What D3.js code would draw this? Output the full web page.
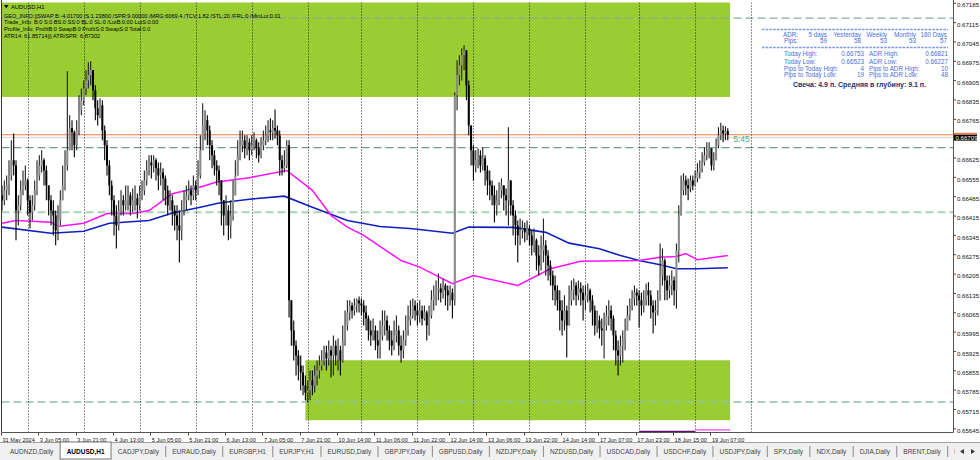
<!DOCTYPE html>
<html><head><meta charset="utf-8">
<script src="https://cdn.jsdelivr.net/npm/d3@7"></script>
<style>body{margin:0;background:#fff;}svg{display:block;font-family:"Liberation Sans",Arial,sans-serif;}</style>
</head><body><svg id="c" width="980" height="460"></svg>
<script>
// ---------------- DATA ----------------
// AUDUSD H1 bars, prices in points (x 1e-5)
const firstOpen = 66490;
const closes = [66472,66508,66526,66562,66617,66598,66435,66454,66508,66526,
66544,66472,66428,66454,66508,66562,66598,66617,66580,66526,
66472,66435,66417,66363,66399,66472,66526,66598,66653,66733,
66718,66671,66725,66798,66834,66877,66906,66925,66943,66870,
66805,66780,66816,66725,66671,66598,66526,66472,66417,66381,
66435,66472,66454,66472,66490,66454,66472,66479,66454,66490,
66508,66544,66580,66609,66598,66617,66588,66562,66573,66551,
66508,66454,66472,66435,66417,66381,66363,66435,66472,66490,
66508,66490,66526,66508,66562,66653,66743,66762,66725,66671,
66635,66598,66580,66544,66472,66417,66435,66381,66417,66490,
66562,66635,66671,66689,66660,66682,66653,66671,66689,66660,
66635,66671,66689,66707,66725,66718,66733,66725,66707,66617,
66588,66598,66671,66110,66001,65946,65910,65874,65849,65802,
65776,65784,65820,65802,65838,65856,65874,65892,65921,65899,
65929,65910,65946,65910,65929,65892,65965,66019,66066,66091,
66073,66091,66110,66099,66091,66066,66044,66001,65983,66001,
65965,65946,65983,66019,66037,66001,65965,65946,65983,66001,
65946,65929,65965,66001,66037,66055,66091,66073,66055,66073,
66044,66066,66019,66055,66110,66128,66146,66153,66138,66164,
66146,66128,66138,66110,66852,66925,66961,66997,67015,66888,
66743,66653,66598,66617,66635,66598,66624,66580,66544,66526,
66490,66454,66472,66508,66526,66490,66472,66544,66454,66417,
66381,66345,66363,66370,66356,66370,66345,66309,66327,66272,
66236,66291,66309,66272,66236,66200,66164,66146,66110,66073,
66037,66073,66019,66110,66146,66164,66128,66153,66138,66110,
66128,66146,66110,66073,66019,66037,66008,66001,66019,66055,
66073,66044,65983,65929,65910,65946,65965,66001,66055,66091,
66117,66138,66128,66110,66091,66110,66146,66128,66091,66066,
66073,66110,66200,66254,66182,66146,66164,66182,66146,66291,
66417,66508,66544,66526,66515,66544,66526,66551,66573,66588,
66609,66635,66653,66660,66598,66617,66671,66707,66725,66714,
66722,66709];
const highs = [66526,66544,66562,66617,66689,66714,66617,66490,66544,66580,
66598,66551,66490,66490,66544,66617,66635,66653,66624,66598,
66526,66490,66472,66435,66454,66508,66598,66653,66939,66780,
66762,66725,66762,66852,66877,66906,66943,66972,66975,66943,
66888,66834,66841,66834,66743,66689,66617,66544,66490,66454,
66472,66508,66490,66526,66526,66501,66515,66526,66497,66526,
66544,66580,66617,66635,66635,66635,66624,66609,66609,66588,
66562,66526,66508,66490,66454,66454,66435,66472,66508,66526,
66544,66526,66562,66544,66617,66707,66823,66798,66780,66743,
66689,66653,66617,66598,66544,66472,66490,66454,66472,66544,
66617,66689,66725,66725,66707,66707,66696,66707,66718,66696,
66682,66700,66725,66743,66762,66769,66762,66801,66743,66725,
66635,66653,66689,66689,66110,66037,65965,65929,65910,65874,
65838,65820,65856,65856,65874,65892,65910,65929,65946,65946,
65965,65946,65983,65965,65972,65946,66019,66073,66110,66110,
66102,66117,66117,66124,66117,66110,66091,66055,66037,66044,
66019,66001,66037,66073,66073,66055,66019,66001,66037,66055,
66019,65983,66001,66055,66091,66110,66117,66110,66099,66110,
66091,66091,66073,66091,66146,66164,66182,66207,66171,66189,
66171,66164,66164,66153,66863,66979,66997,67022,67033,67015,
66906,66743,66671,66653,66660,66653,66664,66635,66598,66580,
66544,66526,66508,66537,66551,66526,66515,66736,66526,66472,
66435,66399,66406,66399,66392,66399,66381,66363,66370,66334,
66309,66345,66406,66327,66291,66254,66218,66200,66164,66146,
66110,66128,66091,66164,66182,66189,66175,66182,66175,66164,
66164,66171,66153,66128,66091,66073,66055,66044,66066,66091,
66110,66091,66055,66001,65965,65983,66001,66044,66091,66117,
66146,66164,66153,66146,66138,66146,66171,66175,66146,66110,
66110,66146,66316,66298,66261,66200,66200,66218,66196,66316,
66454,66562,66570,66562,66551,66562,66562,66580,66606,66617,
66646,66664,66682,66682,66660,66646,66696,66736,66753,66743,
66740,66733];
const lows = [66435,66454,66472,66490,66544,66562,66327,66381,66435,66490,
66508,66417,66370,66399,66435,66490,66544,66573,66526,66472,
66417,66381,66345,66309,66327,66381,66472,66508,66580,66671,
66653,66628,66653,66707,66780,66816,66852,66877,66888,66834,
66762,66743,66769,66689,66617,66562,66490,66417,66345,66298,
66363,66417,66417,66435,66435,66417,66428,66435,66406,66435,
66472,66490,66526,66562,66551,66573,66544,66508,66526,66472,
66454,66417,66435,66381,66363,66327,66247,66327,66417,66435,
66472,66454,66472,66472,66490,66551,66653,66689,66671,66617,
66588,66562,66526,66490,66381,66345,66381,66327,66334,66399,
66490,66562,66617,66646,66624,66635,66617,66635,66653,66624,
66609,66624,66653,66671,66682,66689,66689,66696,66671,66562,
66562,66573,66588,66048,65946,65892,65838,65820,65784,65766,
65748,65740,65748,65766,65776,65802,65827,65856,65874,65856,
65874,65831,65838,65874,65856,65838,65885,65946,66001,66037,
66044,66055,66066,66066,66055,66019,66001,65965,65946,65965,
65929,65899,65899,65965,65983,65965,65929,65910,65929,65957,
65910,65885,65899,65946,65983,66019,66044,66037,66019,66030,
66019,66037,65965,65983,66044,66073,66091,66110,66102,66117,
66091,66073,66091,66044,66091,66798,66888,66906,66943,66834,
66707,66598,66544,66573,66588,66573,66580,66526,66490,66472,
66454,66392,66417,66454,66479,66435,66417,66381,66417,66345,
66309,66247,66309,66334,66320,66327,66309,66272,66283,66218,
66200,66218,66247,66200,66182,66164,66110,66091,66073,66001,
65983,66001,65903,66019,66091,66110,66091,66110,66091,66037,
66073,66102,66066,66019,65983,65993,65972,65946,65899,66001,
66019,66001,65929,65874,65838,65874,65885,65929,66001,66037,
66073,66091,66091,66012,66055,66066,66091,66091,66044,65990,
66019,66055,66110,66164,66110,66110,66117,66128,66091,66080,
66247,66417,66490,66490,66472,66501,66508,66523,66537,66551,
66573,66598,66617,66624,66580,66580,66635,66660,66689,66682,
66689,66689];

// moving averages (bar index, price)
const blueIdx = [0,21,35,46,63,73,85,93,106,121,133,148,162,176,193,200,219,233,243,256,265,273,282,289,298,311];
const blueVal = [0.66375,0.66353,0.66360,0.66389,0.66399,0.66426,0.66447,0.66462,0.66476,0.66487,0.66447,0.66399,0.66377,0.66369,0.66353,0.66375,0.66374,0.66356,0.66317,0.66297,0.66272,0.66254,0.66239,0.66224,0.66224,0.66228];
const magIdx = [0,6,21,24,35,45,56,63,73,85,92,106,122,133,141,148,155,171,179,193,202,221,235,248,273,282,289,293,298,311];
const magVal = [0.66389,0.66399,0.66393,0.66377,0.66389,0.66424,0.66424,0.66435,0.66496,0.66520,0.66538,0.66554,0.66580,0.66508,0.66417,0.66375,0.66345,0.66254,0.66230,0.66170,0.66200,0.66164,0.66224,0.66251,0.66254,0.66266,0.66269,0.66279,0.66257,0.66272];

// axis labels
const timeLabels = ["31 May 2024","3 Jun 05:00","3 Jun 21:00","4 Jun 13:00","5 Jun 05:00","5 Jun 21:00","6 Jun 13:00","7 Jun 05:00","7 Jun 21:00","10 Jun 14:00","11 Jun 06:00","11 Jun 22:00","12 Jun 14:00","13 Jun 06:00","13 Jun 22:00","14 Jun 14:00","17 Jun 07:00","17 Jun 23:00","18 Jun 15:00","19 Jun 07:00"];
const timeLabelStep = 16;           // bars between time labels
const dayStarts = [11,35,59,83,107,131,154,178,202,226,250,273,297,321]; // bar index of each day's first bar
const priceTicks = [0.65645,0.65715,0.65785,0.65855,0.65925,0.65995,0.66065,0.66135,0.66205,0.66275,0.66345,0.66415,0.66485,0.66555,0.66625,0.66695,0.66765,0.66835,0.66905,0.66975,0.67045,0.67115,0.67185];

// objects
const zoneStart = [-1, 130];
const zoneEnd   = [312, 312];
const zoneLow   = [0.66846, 0.65676];
const zoneHigh  = [0.67400, 0.65893];
const dashLevels = [0.67131, 0.66663, 0.66429, 0.65742];
const bid = 0.66709;
const greyLevel = 0.66699;
const lowLines = [[273,297,0.65636],[297,312,0.65641]];
const timerText = "5:45";

// texts
const headerLines = ["GEO_INFO:||SWAP B:-4.01700 /S:1.23800 /SPR:9.00000 /MRG:6069.4 /TCV:1.82 /STL:20 /FRL:0 /MinLot:0.01",
 "Trade_Info: B:0 S:0 BS:0 SS:0 BL:0 SL:0 /LotB:0.00 LotS:0.00",
 "Profile_Info: ProfitB:0 SwapB:0 ProfitS:0 SwapS:0 Total:0.0",
 "ATR14: 61.85714||| ATR/SPR: 6.87302"];
const symbolTitle = "AUDUSD,H1";
const adrHeaders = ["ADR:","5 days","Yesterday","Weekly","Monthly","180 Days"];
const adrPips = ["Pips:","59","58","53","53","57"];
const statLeft = [["Today High:","0.66753"],["Today Low:","0.66523"],["Pips to Today High:","4"],["Pips to Today Low:","19"]];
const statRight = [["ADR High:","0.66821"],["ADR Low:","0.66227"],["Pips to ADR High:","10"],["Pips to ADR Low:","48"]];
const candleInfo = "Свеча: 4.9 п. Средняя в глубину: 9.1 п.";
const tabs = ["AUDNZD,Daily","AUDUSD,H1","CADJPY,Daily","EURAUD,Daily","EURGBP,H1","EURJPY,H1","EURUSD,Daily","GBPJPY,Daily","GBPUSD,Daily","NZDJPY,Daily","NZDUSD,Daily","USDCAD,Daily","USDCHF,Daily","USDJPY,Daily","SPX,Daily","NDX,Daily","DJIA,Daily","BRENT,Daily","BTCUSD,Daily"];
const activeTab = 1;

// ---------------- DRAW ----------------
const svg = d3.select("#c");
const P = {l:1.5, r:953, t:2.5, b:432};
const x = d3.scaleLinear().domain([0, 407.5]).range([2, 953]);
const y = d3.scaleLinear().domain([0.65645, 0.67185]).range([428.8, 3.3]);

svg.append("rect").attr("width",980).attr("height",460).attr("fill","#fff");
svg.append("defs").append("clipPath").attr("id","clip").append("rect")
  .attr("x",P.l).attr("y",P.t).attr("width",P.r-P.l).attr("height",P.b-P.t);
const g = svg.append("g").attr("clip-path","url(#clip)");

// zones
g.selectAll("rect.zone").data(zoneStart).enter().append("rect")
  .attr("x",(d)=>x(d)).attr("width",(d,i)=>x(zoneEnd[i])-x(d))
  .attr("y",(d,i)=>y(zoneHigh[i])).attr("height",(d,i)=>y(zoneLow[i])-y(zoneHigh[i]))
  .attr("fill","#9acd32");

// horizontal dashed levels
const dashStyle = [["#86b096",1.2,"8,4"],["#6f9d86",1.2,"8,4"],["#a8d4b8",2,"8,4"],["#8fc2ac",1.4,"8,4"]];
g.selectAll("line.lvl").data(dashLevels).enter().append("line")
  .attr("x1",P.l).attr("x2",P.r).attr("y1",d=>y(d)).attr("y2",d=>y(d))
  .attr("stroke",(d,i)=>dashStyle[i][0]).attr("stroke-width",(d,i)=>dashStyle[i][1])
  .attr("stroke-dasharray",(d,i)=>dashStyle[i][2]);

// grey and bid lines
g.append("line").attr("x1",P.l).attr("x2",P.r).attr("y1",y(greyLevel)).attr("y2",y(greyLevel))
  .attr("stroke","#dcdcdc").attr("stroke-width",1.5);
g.append("line").attr("x1",P.l).attr("x2",P.r).attr("y1",y(bid)).attr("y2",y(bid))
  .attr("stroke","#f07848").attr("stroke-width",1.1);

// day separators
g.selectAll("line.sep").data(dayStarts).enter().append("line")
  .attr("x1",d=>Math.round(x(d))+0.5).attr("x2",d=>Math.round(x(d))+0.5)
  .attr("y1",P.t).attr("y2",P.b).attr("stroke","#222").attr("stroke-width",1)
  .attr("stroke-dasharray","1,2");

// moving averages
const line = d3.line().x(d=>x(d[0])).y(d=>y(d[1]));
g.append("path").attr("d",line(blueIdx.map((d,i)=>[d,blueVal[i]])))
  .attr("fill","none").attr("stroke","#1020c0").attr("stroke-width",1.6);
g.append("path").attr("d",line(magIdx.map((d,i)=>[d,magVal[i]])))
  .attr("fill","none").attr("stroke","#ff10ff").attr("stroke-width",1.5);

// low lines
g.selectAll("line.low").data(lowLines).enter().append("line")
  .attr("x1",d=>x(d[0])).attr("x2",d=>x(d[1])).attr("y1",d=>y(d[2])).attr("y2",d=>y(d[2]))
  .attr("stroke",(d,i)=>i?"#ff40ff":"#60106a").attr("stroke-width",1.3);

// candles
const bars = closes.map((c,i)=>({i, o:(i?closes[i-1]:firstOpen)/1e5, c:c/1e5, h:highs[i]/1e5, l:lows[i]/1e5}));
const cg = g.append("g");
cg.selectAll("line.wick").data(bars).enter().append("line")
  .attr("x1",d=>x(d.i)).attr("x2",d=>x(d.i))
  .attr("y1",d=>y(Math.max(d.h,d.o,d.c))).attr("y2",d=>y(Math.min(d.l,d.o,d.c)))
  .attr("stroke",d=>d.c>=d.o?"#202020":"#000").attr("stroke-width",1.1);
cg.selectAll("rect.body").data(bars).enter().append("rect")
  .attr("x",d=>x(d.i)-1).attr("width",2)
  .attr("y",d=>y(Math.max(d.o,d.c)))
  .attr("height",d=>Math.max(0.8, y(Math.min(d.o,d.c))-y(Math.max(d.o,d.c))))
  .attr("fill",d=>d.c>=d.o?"#8c8c8c":"#000");

// timer
svg.append("text").attr("x",x(closes.length)+3).attr("y",y(bid)+7.5).text(timerText)
  .attr("font-size",8.5).attr("fill","#58b078");

// frame
svg.append("line").attr("x1",P.l).attr("x2",P.l).attr("y1",0).attr("y2",P.b).attr("stroke","#333");
svg.append("line").attr("x1",P.r+0.5).attr("x2",P.r+0.5).attr("y1",0).attr("y2",P.b+0.5).attr("stroke","#555");
svg.append("line").attr("x1",P.l).attr("x2",P.r+0.5).attr("y1",P.b+0.5).attr("y2",P.b+0.5).attr("stroke","#555");

// price axis (labels hidden where the bid label sits)
const ya = svg.append("g");
ya.selectAll("line").data(priceTicks).enter().append("line")
  .attr("x1",P.r+0.5).attr("x2",P.r+3).attr("y1",d=>y(d)).attr("y2",d=>y(d)).attr("stroke","#444");
ya.selectAll("text").data(priceTicks.filter(d=>Math.abs(y(d)-y(bid))>7)).enter().append("text")
  .attr("x",P.r+4).attr("y",d=>y(d)+2).attr("dy","0.35em").attr("font-size",6.1).attr("fill","#111")
  .text(d=>d3.format(".5f")(d));
// bid label
ya.append("rect").attr("x",P.r+1).attr("y",y(bid)-2).attr("width",23).attr("height",2).attr("fill","#f07848");
ya.append("rect").attr("x",P.r+1).attr("y",y(bid)).attr("width",23).attr("height",5.8).attr("fill","#000");
ya.append("text").attr("x",P.r+2.5).attr("y",y(bid)+2.9).attr("dy","0.35em").attr("font-size",6.1).attr("fill","#fff")
  .text(d3.format(".5f")(bid));

// time axis
const xa = svg.append("g");
xa.selectAll("line").data(timeLabels).enter().append("line")
  .attr("x1",(d,i)=>Math.round(x(i*timeLabelStep))-0.5).attr("x2",(d,i)=>Math.round(x(i*timeLabelStep))-0.5)
  .attr("y1",P.b+0.5).attr("y2",P.b+3.5).attr("stroke","#444");
xa.selectAll("text").data(timeLabels).enter().append("text")
  .attr("x",(d,i)=>x(i*timeLabelStep)+0.5).attr("y",440).attr("dy","0.35em")
  .attr("font-size",5.6).attr("fill","#111").text(d=>d);

// header text
svg.append("path").attr("d","M4,5 L8.5,5 L6.25,8.2 Z").attr("fill","#000");
svg.append("text").attr("x",11).attr("y",6.7).attr("dy","0.35em").attr("font-size",5.8).text(symbolTitle);
svg.selectAll("text.hdr").data(headerLines).enter().append("text")
  .attr("x",4).attr("y",(d,i)=>15.7+i*6.75).attr("dy","0.35em").attr("font-size",5.6).attr("fill","#000").text(d=>d);

// info panel
const blue = "#4a6fd8";
const ip = svg.append("g").attr("font-size",6.3).attr("fill",blue);
[29.5,47.5].forEach(yy=>ip.append("line").attr("x1",762).attr("x2",948).attr("y1",yy).attr("y2",yy)
  .attr("stroke","#7f99e6").attr("stroke-width",1.6).attr("stroke-dasharray","2.6,1.1"));
const colX = [798,827,861,887,916,947];
ip.selectAll("text.h").data(adrHeaders).enter().append("text").attr("x",(d,i)=>colX[i]).attr("y",34.3)
  .attr("dy","0.35em").attr("text-anchor","end").text(d=>d);
ip.selectAll("text.p").data(adrPips).enter().append("text").attr("x",(d,i)=>colX[i]).attr("y",40.8)
  .attr("dy","0.35em").attr("text-anchor","end").text(d=>d);
const rowY = [54,61.3,68.3,75];
statLeft.forEach((r,i)=>{
  ip.append("text").attr("x",784).attr("y",rowY[i]).attr("dy","0.35em").text(r[0]);
  ip.append("text").attr("x",864).attr("y",rowY[i]).attr("dy","0.35em").attr("text-anchor","end").text(r[1]);
});
statRight.forEach((r,i)=>{
  ip.append("text").attr("x",869).attr("y",rowY[i]).attr("dy","0.35em").text(r[0]);
  ip.append("text").attr("x",948).attr("y",rowY[i]).attr("dy","0.35em").attr("text-anchor","end").text(r[1]);
});
svg.append("text").attr("x",793).attr("y",84.5).attr("dy","0.35em").attr("font-size",7)
  .attr("font-weight","bold").attr("fill","#23307a").text(candleInfo);

// tab bar
const tb = svg.append("g");
tb.append("rect").attr("x",0).attr("y",442).attr("width",980).attr("height",18).attr("fill","#f0f0f0");
tb.append("line").attr("x1",0).attr("x2",980).attr("y1",442.5).attr("y2",442.5).attr("stroke","#a0a0a0");
tb.append("defs").append("clipPath").attr("id","tclip").append("rect").attr("x",0).attr("y",440).attr("width",955).attr("height",20);
const tt = tb.append("g").attr("clip-path","url(#tclip)");
let cx = 10;
tabs.forEach((t,i)=>{
  const act = i===activeTab;
  const txt = tt.append("text").attr("x",cx).attr("y",451.5).attr("dy","0.35em")
    .attr("font-size",6.5).attr("fill",act?"#000":"#444").attr("font-weight",act?"bold":"normal").text(t);
  const w = txt.node().getComputedTextLength();
  if(act){
    tt.insert("rect","text").attr("x",cx-6.5).attr("y",442).attr("width",w+13).attr("height",17)
      .attr("fill","#fff").attr("stroke","#777");
  } else if(i>0 && i-1!==activeTab){
    tt.append("line").attr("x1",cx-6.5).attr("x2",cx-6.5).attr("y1",446).attr("y2",457).attr("stroke","#8a8a8a");
  }
  cx += w + 13.3;
});
tb.append("rect").attr("x",955).attr("y",443).attr("width",25).attr("height",17).attr("fill","#f0f0f0");
tb.append("path").attr("d","M960,451.5 L964,449 L964,454 Z").attr("fill","#333");
tb.append("path").attr("d","M975,451.5 L971,449 L971,454 Z").attr("fill","#333");
</script></body></html>
